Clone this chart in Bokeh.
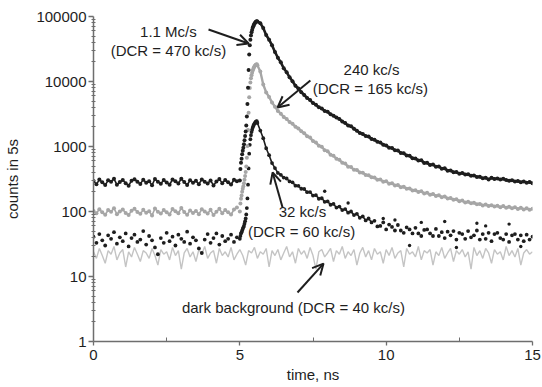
import numpy as np
from bokeh.plotting import figure
from bokeh.models import FixedTicker, Arrow, OpenHead, Label, PrintfTickFormatter
from bokeh.embed import file_html
from bokeh.resources import INLINE

# ---------------- data ----------------
# time bins (ns): baseline 0.0-4.9 step 0.1, rise 5.00-5.58 step 0.02, decay 5.6-15.0 step 0.1
base_step = 0.1
rise_step = 0.02

# 1.1 Mc/s (DCR = 470 kc/s), black
base_A = [295, 262, 310, 281, 255, 302, 288, 318, 259, 284,
          306, 272, 250, 297, 314, 286, 266, 309, 278, 293,
          254, 316, 287, 268, 304, 280, 258, 311, 291, 270,
          320, 285, 256, 303, 276, 296, 263, 312, 286, 269,
          301, 252, 289, 315, 273, 305, 283, 260, 308, 292]
rise_A = [300, 450, 560, 650, 760, 860, 960, 1080, 1250, 1450,
          1700, 2100, 2900, 4500, 8000, 15000, 26000, 36000, 44000, 51000,
          57000, 62000, 67000, 71000, 74500, 77500, 80000, 82000, 83500, 84300]
decay_A = [84000, 79000, 66500, 52000, 44000, 36000, 28500, 23200, 19700, 16000,
           13900, 11600, 10100, 8600, 7800, 6850, 6200, 5580, 5180, 4650,
           4400, 4030, 3830, 3520, 3420, 3130, 2980, 2790, 2660, 2420,
           2300, 2095, 2045, 1870, 1750, 1620, 1560, 1450, 1420, 1310,
           1275, 1180, 1155, 1060, 1040, 958, 950, 875, 865, 795,
           790, 725, 720, 660, 656, 610, 614, 558, 560, 519,
           528, 489, 494, 456, 461, 425, 428, 402, 404, 381,
           392, 371, 374, 355, 359, 340, 341, 324, 330, 312,
           330, 316, 322, 310, 318, 305, 296, 302, 290, 294,
           282, 289, 278, 284, 272]

# 240 kc/s (DCR = 165 kc/s), grey
base_B = [102, 94, 108, 97, 89, 105, 99, 112, 91, 100,
          107, 95, 88, 103, 110, 98, 92, 106, 96, 101,
          87, 111, 99, 93, 105, 97, 90, 109, 101, 94,
          113, 98, 89, 104, 95, 102, 91, 108, 100, 93,
          106, 88, 99, 110, 94, 105, 97, 90, 107, 115]
rise_B = [100, 133, 157, 177, 201, 223, 244, 271, 308, 352,
          407, 494, 669, 1020, 1790, 3320, 5730, 7920, 9670, 11200,
          12500, 13600, 14700, 15600, 16350, 17000, 17560, 17990, 18320, 18500]
decay_B = [17800, 14300, 9000, 6800, 5800, 4750, 4100, 3520, 3190, 2850,
           2650, 2380, 2230, 2020, 1900, 1720, 1600, 1440, 1370, 1210,
           1150, 1030, 990, 875, 845, 745, 720, 648, 628, 562,
           548, 490, 482, 438, 436, 398, 396, 364, 362, 336,
           334, 308, 312, 288, 291, 268, 272, 251, 256, 237,
           240, 223, 226, 211, 213, 200, 205, 190, 195, 181,
           186, 173, 178, 166, 170, 158, 161, 151, 154, 144,
           148, 137, 141, 134, 136, 129, 131, 124, 128, 121,
           125, 119, 123, 116, 121, 114, 118, 112, 116, 109,
           114, 107, 112, 106, 110]

# 32 kc/s (DCR = 60 kc/s), black dots
base_C = [41, 33, 45, 36, 30, 43, 38, 48, 32, 40,
          35, 46, 29, 39, 44, 34, 37, 50, 31, 42,
          36, 28, 22, 39, 33, 47, 35, 41, 30, 44,
          38, 34, 49, 32, 40, 36, 27, 23, 37, 45,
          33, 39, 46, 31, 42, 35, 38, 44, 34, 40]
rise_C = [38, 42, 46, 48, 51, 54, 57, 60, 65, 71,
          78, 90, 113, 159, 259, 460, 776, 1063, 1293, 1494,
          1666, 1809, 1953, 2068, 2168, 2254, 2326, 2383, 2427, 2450]
decay_C = [2300, 1760, 1340, 940, 735, 555, 465, 392, 366, 333,
           322, 290, 281, 250, 248, 224, 222, 198, 199, 176,
           178, 157, 160, 141, 143, 127, 131, 115, 119, 105,
           109, 96, 100, 88, 92, 80, 84, 73, 78, 68,
           72, 59, 60, 68, 53, 63, 58, 51, 62, 51,
           47, 57, 53, 46, 56, 46, 42, 52, 53, 46,
           42, 54, 42, 48, 39, 49, 43, 50, 37, 47,
           45, 38, 50, 40, 43, 51, 37, 45, 38, 47,
           35, 45, 47, 39, 37, 45, 34, 43, 45, 37,
           43, 35, 44, 37, 41]
out_t_C = [7.9, 8.7, 9.9, 10.3, 10.8, 11.2, 12.0, 12.4, 13.1, 13.4, 14.2, 14.6]
out_v_C = [205, 135, 78, 74, 30, 68, 70, 28, 66, 60, 64, 29]

# dark background (DCR = 40 kc/s), light grey line, 0.0-15.0 step 0.1
dark = [24, 19, 27, 21, 16, 25, 22, 29, 18, 23,
        26, 14, 24, 20, 28, 22, 17, 25, 23, 19,
        27, 21, 15, 26, 22, 24, 18, 28, 21, 25,
        13, 23, 27, 20, 24, 17, 26, 22, 29, 19,
        23, 25, 16, 27, 21, 24, 20, 28, 18, 22,
        26, 21, 15, 25, 23, 28, 19, 24, 22, 27,
        14, 25, 21, 26, 18, 23, 29, 20, 24, 16,
        27, 22, 25, 19, 28, 21, 13, 24, 26, 20,
        23, 27, 17, 25, 22, 29, 19, 24, 21, 26,
        15, 23, 28, 20, 25, 18, 27, 22, 24, 16,
        26, 21, 28, 19, 23, 25, 14, 27, 22, 24,
        20, 29, 18, 25, 23, 26, 15, 24, 21, 28,
        19, 23, 27, 17, 25, 22, 26, 20, 24, 13,
        28, 21, 25, 19, 27, 23, 16, 26, 22, 24,
        18, 29, 21, 25, 20, 27, 15, 23, 26, 22,
        24]

y_tick_values = [1, 10, 100, 1000, 10000, 100000]
x_tick_values = [0, 5, 10, 15]
x_minor_values = [2.5, 7.5, 12.5]
x_title = "time, ns"
y_title = "counts in 5s"


def times(base, rise, decay):
    tb = np.round(np.arange(len(base)) * base_step, 3)
    tr = np.round(5.0 + np.arange(len(rise)) * rise_step, 3)
    td = np.round(5.6 + np.arange(len(decay)) * base_step, 3)
    return tb, tr, td


# ---------------- figure ----------------
p = figure(width=542, height=387, y_axis_type="log",
           x_range=(0, 15), y_range=(1, 100000),
           output_backend="svg", toolbar_location=None,
           min_border_left=93, min_border_right=10,
           min_border_top=16, min_border_bottom=46)
p.outline_line_color = None
p.xgrid.visible = False
p.ygrid.visible = False

INK = "#1e1e1e"
GREY_B = "#a6a6a6"
GREY_D = "#c4c4c4"

# dark background line
t_dark = np.round(np.arange(len(dark)) * base_step, 3)
p.line(t_dark, dark, line_color=GREY_D, line_width=1.4)

# 32 kc/s
tb, tr, td = times(base_C, rise_C, decay_C)
p.line(td[:40], decay_C[:40], line_color=INK, line_width=1.6)
p.scatter(np.concatenate([tb, tr, td]), base_C + rise_C + decay_C,
          size=3.8, color=INK, line_width=0)
p.scatter(out_t_C, out_v_C, size=3.4, color=INK, line_width=0)

# 240 kc/s
tb, tr, td = times(base_B, rise_B, decay_B)
p.line(tb, base_B, line_color=GREY_B, line_width=1.6)
p.line(td, decay_B, line_color=GREY_B, line_width=2.4)
p.scatter(np.concatenate([tb, tr, td]), base_B + rise_B + decay_B,
          size=4, color=GREY_B, line_width=0)

# 1.1 Mc/s
tb, tr, td = times(base_A, rise_A, decay_A)
p.line(tb, base_A, line_color=INK, line_width=1.6)
p.line(td, decay_A, line_color=INK, line_width=2.6)
p.scatter(np.concatenate([tb, tr, td]), base_A + rise_A + decay_A,
          size=4, color=INK, line_width=0)

# ---------------- axes ----------------
FONT = "Liberation Sans"
for ax in (p.xaxis[0], p.yaxis[0]):
    ax.axis_line_color = "#6e6e6e"
    ax.axis_line_width = 1.5
    ax.major_tick_line_color = "#6e6e6e"
    ax.minor_tick_line_color = "#6e6e6e"
    ax.major_tick_line_width = 1.3
    ax.minor_tick_line_width = 1
    ax.major_label_text_font = FONT
    ax.major_label_text_font_size = "15px"
    ax.major_label_text_color = INK
    ax.axis_label_text_font = FONT
    ax.axis_label_text_font_size = "15px"
    ax.axis_label_text_font_style = "normal"
    ax.axis_label_text_color = INK

p.yaxis.ticker = FixedTicker(ticks=y_tick_values,
                             minor_ticks=[m * 10 ** k for k in range(5) for m in range(2, 10)])
p.yaxis.formatter = PrintfTickFormatter(format="%d")
p.yaxis.major_tick_out = 5
p.yaxis.major_tick_in = 0
p.yaxis.minor_tick_out = 2
p.yaxis.minor_tick_in = 2
p.yaxis.major_label_standoff = 2
p.yaxis.axis_label = y_title
p.yaxis.axis_label_standoff = 12

p.xaxis.ticker = FixedTicker(ticks=x_tick_values, minor_ticks=x_minor_values)
p.xaxis.major_tick_out = 4
p.xaxis.major_tick_in = 0
p.xaxis.minor_tick_out = 0
p.xaxis.minor_tick_in = 4
p.xaxis.major_label_standoff = 4
p.xaxis.axis_label = x_title
p.xaxis.axis_label_standoff = 3

# ---------------- annotations ----------------
labels = [
    (2.56, 58800, "1.1 Mc/s"),
    (2.56, 30000, "(DCR = 470 kc/s)"),
    (9.50, 15300, "240 kc/s"),
    (9.46, 7800, "(DCR = 165 kc/s)"),
    (7.14, 100, "32 kc/s"),
    (7.11, 49, "(DCR = 60 kc/s)"),
    (6.83, 3.33, "dark background (DCR = 40 kc/s)"),
]
for x, y, s in labels:
    p.add_layout(Label(x=x, y=y, text=s, text_align="center", text_baseline="middle",
                       text_font=FONT, text_font_size="15px", text_color=INK))

arrows = [
    (3.93, 63100, 5.30, 38400),
    (7.41, 10350, 6.29, 3980),
    (6.46, 115, 6.12, 398),
    (6.97, 5.67, 7.86, 15.8),
]
for xs, ys, xe, ye in arrows:
    p.add_layout(Arrow(end=OpenHead(size=11, line_width=2, line_color=INK),
                       x_start=xs, y_start=ys, x_end=xe, y_end=ye,
                       line_width=2, line_color=INK))

open("out.html", "w").write(file_html(p, INLINE))
